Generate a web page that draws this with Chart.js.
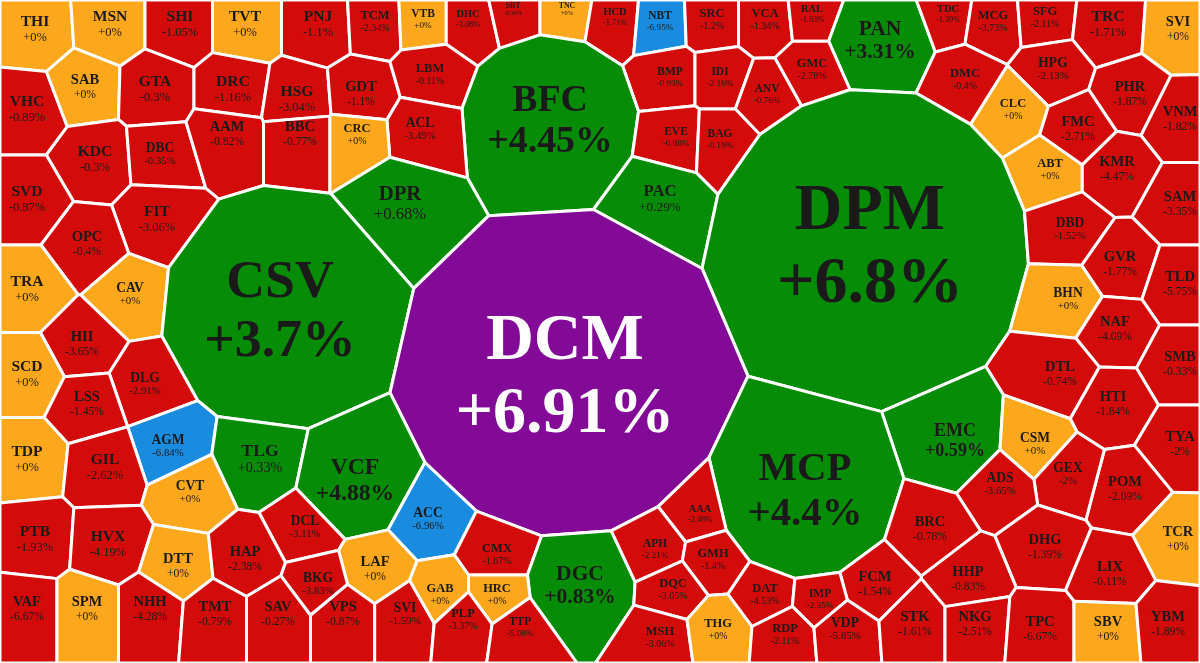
<!DOCTYPE html>
<html>
<head>
<meta charset="utf-8">
<script src="https://cdn.jsdelivr.net/npm/chart.js@4.4.1/dist/chart.umd.min.js"></script>
<style>
  html, body { margin: 0; padding: 0; background: #fff; }
  #wrap { width: 1200px; height: 663px; }
</style>
</head>
<body>
<div id="wrap"><canvas id="vt"></canvas></div>
<script>
// tickers and % change
const tickers = ['THI','MSN','SHI','TVT','PNJ','TCM','VTB','DHC','SBT','TNC','HCD','NBT','SRC','VCA','RAL','PAN','TDC','MCG','SFG','TRC','SVI',
  'VHC','SAB','GTA','DRC','HSG','GDT','LBM','BMP','IDI','ANV','GMC','DMC','HPG','PHR','VNM','CLC','FMC','BFC',
  'KDC','DBC','AAM','BBC','ACL','CRC','EVE','BAG','ABT','KMR','SVD','FIT','OPC','DPR','PAC','DPM','DBD','SAM','GVR',
  'TRA','CAV','CSV','DCM','TLD','BHN','HII','NAF','SCD','DLG','DTL','SMB','LSS','HTI','AGM','EMC','CSM','TYA',
  'TDP','GIL','TLG','VCF','MCP','POM','GEX','ADS','CVT','PTB','HVX','DCL','ACC','AAA','BRC','DHG','TCR',
  'DTT','HAP','CMX','APH','GMH','LAF','BKG','DGC','HHP','LIX','FCM','DQC','DAT','IMP','GAB','HRC',
  'VAF','SPM','NHH','TMT','SAV','VPS','SVI','PLP','TTP','MSH','THG','RDP','VDP','STK','NKG','TPC','SBV','YBM'];
const changes = [0,0,-1.05,0,-1.1,-2.34,0,-3.08,-0.34,0,-1.71,-6.95,-1.2,-1.34,-1.63,3.31,-1.39,-3.73,-2.11,-1.71,0,
  -0.89,0,-0.3,-1.16,-3.04,-1.1,-0.11,-0.93,-2.16,-0.76,-2.78,-0.4,-2.13,-1.87,-1.82,0,-2.71,4.45,
  -0.3,-0.35,-0.82,-0.77,-3.49,0,-0.98,-0.19,0,-4.47,-0.87,-3.06,-0.4,0.68,0.29,6.8,-1.52,-3.35,-1.77,
  0,0,3.7,6.91,-5.75,0,-3.65,-4.09,0,-2.91,-0.74,-0.33,-1.45,-1.84,-6.84,0.59,0,-2,
  0,-2.62,0.33,4.88,4.4,-2.09,-2,-3.65,0,-1.93,-4.19,-3.11,-6.96,-2.48,-0.78,-1.39,0,
  0,-2.38,-1.67,-2.21,-1.4,0,-3.83,0.83,-0.83,-0.11,-1.54,-3.05,-4.53,-2.35,0,0,
  -6.67,0,-4.28,-0.79,-0.27,-0.87,-1.59,-3.37,-5.08,-3.06,0,-2.11,-5.85,-1.61,-2.51,-6.67,0,-1.89];
// cell sites (chart units) and weights
const siteX = [35,110,180,245,318,375,423,468,513,567,615,660,712,765,812,880,948,993,1045,1108,1178,
  27,85,155,233,297,361,430,670,720,767,812,965,1053,1130,1180,1013,1078,550,
  95,160,227,300,420,357,676,720,1050,1117,27,157,87,400,660,870,1070,1180,1120,
  27,130,280,565,1180,1068,82,1115,27,145,1060,1180,87,1113,168,955,1035,1180,
  27,105,260,355,805,1125,1068,1000,190,35,108,305,428,700,930,1045,1178,
  178,245,497,655,713,375,318,580,968,1110,875,673,765,820,440,497,
  27,87,150,215,278,343,405,463,520,660,718,785,845,915,975,1040,1108,1168];
const siteY = [30,25,25,25,25,22,20,20,10,10,18,22,20,20,15,40,15,22,18,25,30,
  110,88,90,90,100,95,75,78,78,95,70,80,70,95,120,110,130,120,
  160,155,135,135,130,135,138,140,170,170,200,220,245,205,200,245,230,205,265,
  290,295,310,375,285,300,345,330,375,385,375,365,405,405,447,440,445,445,
  460,468,460,480,490,490,475,485,493,540,545,528,520,515,530,548,540,
  567,560,555,550,560,570,585,585,580,575,585,590,595,600,595,595,
  610,610,610,615,615,615,615,620,628,638,630,635,630,625,625,630,630,625];
const weights = [30,30,30,30,30,24,22,20,15,15,20,22,24,24,20,50,20,24,24,30,28,
  30,28,30,30,30,28,24,22,22,22,24,24,26,28,28,24,28,88,
  30,26,28,28,26,24,22,22,24,28,30,30,28,40,32,170,26,28,28,
  30,26,125,175,28,26,28,28,30,26,28,28,28,28,26,42,26,28,
  30,30,34,55,95,28,26,26,26,30,30,26,26,20,28,28,28,
  28,28,24,22,24,28,26,50,28,28,28,24,24,22,24,24,
  28,28,28,28,28,28,26,24,22,24,24,24,26,28,28,28,28,28];

function cellColor(v) {
  if (v >= 6.9) return '#820a96';
  if (v <= -6.8) return '#1a8ce0';
  if (v > 0) return '#078c07';
  if (v === 0) return '#fca71c';
  return '#d40b0b';
}
function fmt(v) {
  return (v >= 0 ? '+' : '') + v + '%';
}

// clip polygon by half plane a.x + b.y <= c
function clip(poly, a, b, c) {
  const out = [];
  for (let i = 0; i < poly.length; i++) {
    const p = poly[i], q = poly[(i + 1) % poly.length];
    const fp = a * p[0] + b * p[1] - c, fq = a * q[0] + b * q[1] - c;
    if (fp <= 0) out.push(p);
    if ((fp <= 0) !== (fq <= 0)) {
      const t = fp / (fp - fq);
      out.push([p[0] + t * (q[0] - p[0]), p[1] + t * (q[1] - p[1])]);
    }
  }
  return out;
}

const voronoiPlugin = {
  id: 'voronoi',
  beforeDatasetsDraw(chart) {
    const ctx = chart.ctx, area = chart.chartArea;
    const pts = chart.getDatasetMeta(0).data;
    const sx = chart.scales.x;
    const k = (sx.getPixelForValue(1) - sx.getPixelForValue(0));
    const w = weights.map(r => (r * k) * (r * k) * 0.8);
    ctx.save();
    ctx.fillStyle = '#fff';
    ctx.fillRect(0, 0, chart.width, chart.height);
    pts.forEach((pi, i) => {
      let poly = [[area.left, area.top], [area.right, area.top], [area.right, area.bottom], [area.left, area.bottom]];
      pts.forEach((pj, j) => {
        if (i === j || poly.length === 0) return;
        const a = 2 * (pj.x - pi.x), b = 2 * (pj.y - pi.y);
        const c = (pj.x * pj.x + pj.y * pj.y) - (pi.x * pi.x + pi.y * pi.y) - w[j] + w[i];
        poly = clip(poly, a, b, c);
      });
      if (poly.length < 3) return;
      ctx.beginPath();
      poly.forEach((p, n) => n ? ctx.lineTo(p[0], p[1]) : ctx.moveTo(p[0], p[1]));
      ctx.closePath();
      ctx.fillStyle = cellColor(changes[i]);
      ctx.fill();
      ctx.lineJoin = 'round';
      ctx.lineWidth = 3;
      ctx.strokeStyle = '#fff';
      ctx.stroke();
    });
    ctx.restore();
  },
  afterDatasetsDraw(chart) {
    const ctx = chart.ctx;
    const pts = chart.getDatasetMeta(0).data;
    ctx.save();
    ctx.textAlign = 'center';
    ctx.textBaseline = 'middle';
    pts.forEach((p, i) => {
      const r = weights[i];
      const big = r > 40;
      const f1 = big ? Math.min(r * 0.43, 66) : r * 0.52;
      const f2 = big ? f1 : f1 * 0.8;
      ctx.fillStyle = changes[i] >= 6.9 ? '#fff' : '#1a1a1a';
      ctx.font = 'bold ' + f1 + 'px "Liberation Serif", serif';
      ctx.fillText(tickers[i], p.x, p.y - f1 * 0.5);
      ctx.font = (big ? 'bold ' : '') + f2 + 'px "Liberation Serif", serif';
      ctx.fillText(fmt(changes[i]), p.x, p.y + f2 * 0.6);
    });
    ctx.restore();
  }
};

new Chart(document.getElementById('vt'), {
  type: 'bubble',
  data: {
    datasets: [{
      data: tickers.map((t, i) => ({ x: siteX[i], y: siteY[i], r: 0 })),
      backgroundColor: 'rgba(0,0,0,0)',
      borderWidth: 0
    }]
  },
  options: {
    responsive: true,
    maintainAspectRatio: false,
    animation: false,
    layout: { padding: 0 },
    events: [],
    plugins: { legend: { display: false }, tooltip: { enabled: false } },
    scales: {
      x: { type: 'linear', min: 0, max: 1200, display: false },
      y: { type: 'linear', min: 0, max: 663, reverse: true, display: false }
    }
  },
  plugins: [voronoiPlugin]
});
</script>
</body>
</html>
